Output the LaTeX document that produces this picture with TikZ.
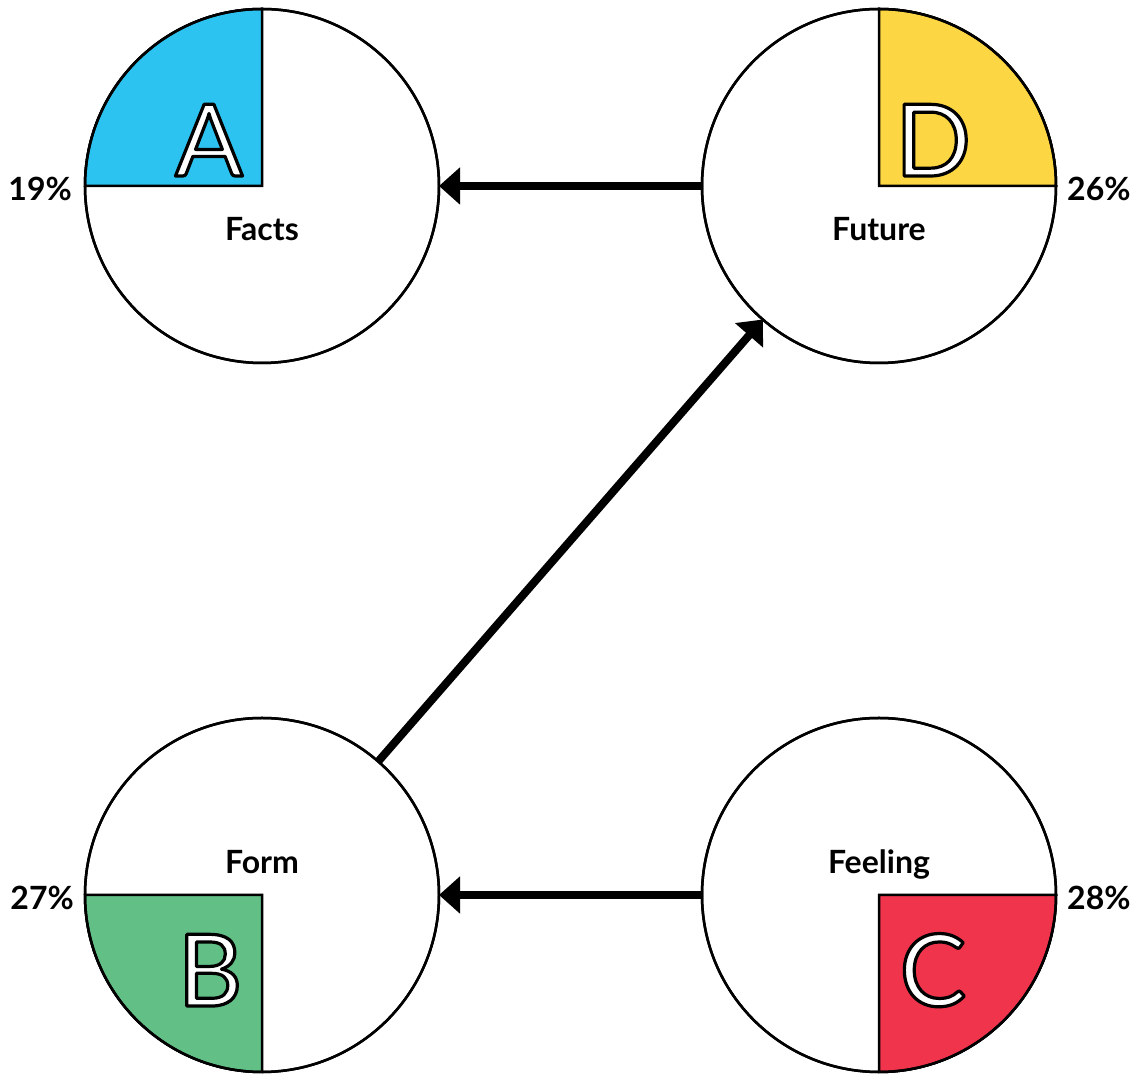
\documentclass[tikz,border=0pt]{standalone}
\usepackage{fontspec}
\setmainfont{Lato}
\usetikzlibrary{arrows.meta}

\definecolor{qblue}{HTML}{2CC3F0}
\definecolor{qyellow}{HTML}{FDD643}
\definecolor{qgreen}{HTML}{62BF86}
\definecolor{qred}{HTML}{EF344C}

% white glyph with a black stroked outline (PDF text render mode 2)
\newcommand{\outlined}[1]{%
  \special{pdf:literal direct 0 G 3.2 w 1 j 2 Tr}#1\special{pdf:literal direct 0 Tr}}

\tikzset{
  disc/.style={circle, draw=black, line width=2.5pt, minimum size=354pt,
               inner sep=0pt, outer sep=0pt},
  quad/.style={draw=black, line width=2.5pt, line join=miter},
  letter/.style={anchor=base, inner sep=0pt, text=white,
                 font=\fontsize{100}{100}\selectfont},
  caption/.style={anchor=base, inner sep=0pt, font=\fontsize{32}{32}\selectfont\bfseries},
  pct/.style={inner sep=0pt, font=\fontsize{32}{32}\selectfont\bfseries},
  flow/.style={line width=8pt, -{Triangle[length=21pt,width=36pt]}},
}

\begin{document}
\begin{tikzpicture}[x=1pt, y=1pt]
  \useasboundingbox (0,0) rectangle (1141,1076);

  % the four discs
  \node[disc] (facts)   at (262,890) {};
  \node[disc] (future)  at (879,890) {};
  \node[disc] (form)    at (262,181) {};
  \node[disc] (feeling) at (879,181) {};

  % coloured quadrants
  \filldraw[quad, fill=qblue]   (facts.center)   -- ++(-177,0) arc[start angle=180, end angle=90,  radius=177] -- cycle;
  \filldraw[quad, fill=qyellow] (future.center)  -- ++(0,177)  arc[start angle=90,  end angle=0,   radius=177] -- cycle;
  \filldraw[quad, fill=qgreen]  (form.center)    -- ++(-177,0) arc[start angle=180, end angle=270, radius=177] -- cycle;
  \filldraw[quad, fill=qred]    (feeling.center) -- ++(0,-177) arc[start angle=270, end angle=360, radius=177] -- cycle;

  % redraw the outlines on top
  \node[disc] at (facts.center) {};
  \node[disc] at (future.center) {};
  \node[disc] at (form.center) {};
  \node[disc] at (feeling.center) {};

  % outlined letters
  \node[letter] (la) at (209,900) {\outlined{A}};
  \node[letter] (ld) at (933,900) {\outlined{D}};
  \node[letter] (lb) at (210,70)  {\outlined{B}};
  \node[letter] (lc) at (933,70)  {\outlined{C}};

  % captions
  \node[caption] (tfacts)   at (262,835) {Facts};
  \node[caption] (tfuture)  at (879,835) {Future};
  \node[caption] (tform)    at (262,202) {Form};
  \node[caption] (tfeeling) at (879,202) {Feeling};

  % percentages
  \node[pct, anchor=base east] (p19) at (72,875)   {19\%};
  \node[pct, anchor=base west] (p26) at (1067,875) {26\%};
  \node[pct, anchor=base east] (p27) at (74,166)   {27\%};
  \node[pct, anchor=base west] (p28) at (1067,166) {28\%};

  % connectors
  \draw[flow] (future) -- (facts);
  \draw[flow] (feeling) -- (form);
  \draw[flow] (form) -- (future);
\end{tikzpicture}
\end{document}
